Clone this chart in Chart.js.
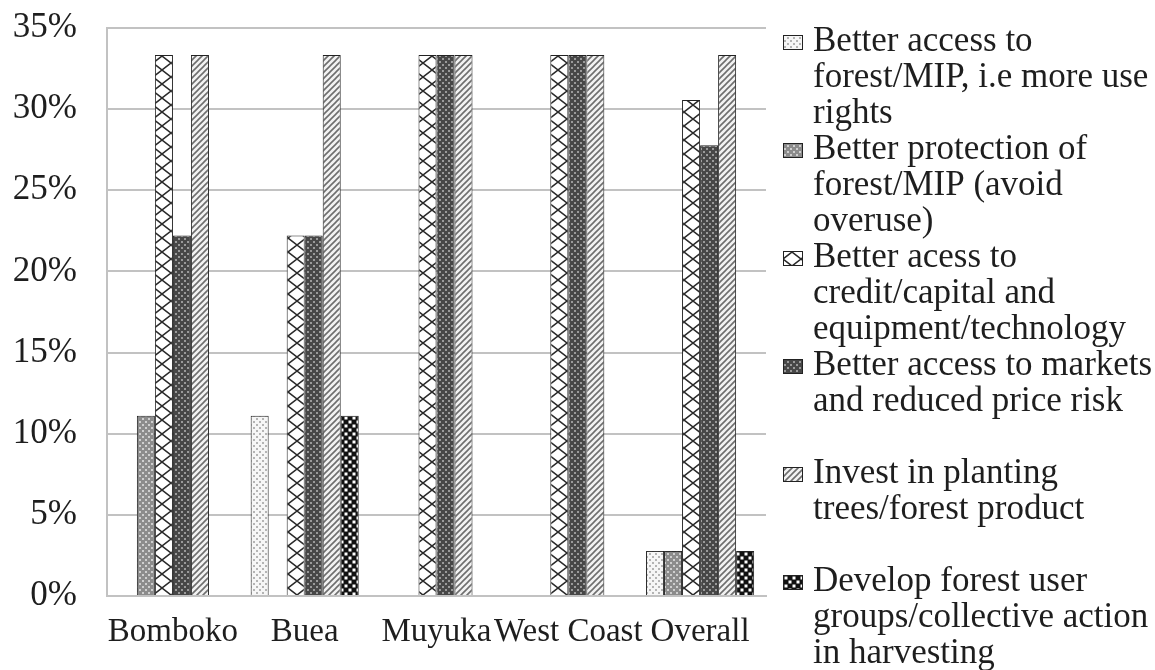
<!DOCTYPE html>
<html>
<head>
<meta charset="utf-8">
<script src="https://cdn.jsdelivr.net/npm/chart.js@4.4.1/dist/chart.umd.min.js"></script>
<style>
  html, body { margin: 0; padding: 0; background: #fff; }
  canvas { display: block; }
</style>
</head>
<body>
<canvas id="chart" width="1155" height="670"></canvas>
<script>
const categories = ['Bomboko', 'Buea', 'Muyuka', 'West Coast', 'Overall'];

// values in percent
const accessForest = [0, 11.11, 0, 0, 2.78];
const protectForest = [11.11, 0, 0, 0, 2.78];
const accessCredit = [33.33, 22.22, 33.33, 33.33, 30.56];
const accessMarkets = [22.22, 22.22, 33.33, 33.33, 27.78];
const investPlanting = [33.33, 33.33, 33.33, 33.33, 33.33];
const developGroups = [0, 11.11, 0, 0, 2.78];

const yMin = 0;
const yMax = 35;
const yStep = 5;

const legendLines = [
  ['Better access to', 'forest/MIP, i.e more use', 'rights'],
  ['Better protection of', 'forest/MIP (avoid', 'overuse)'],
  ['Better acess to', 'credit/capital and', 'equipment/technology'],
  ['Better access to markets', 'and reduced price risk'],
  ['Invest in planting', 'trees/forest product'],
  ['Develop forest user', 'groups/collective action', 'in harvesting'],
];

const serif = "'Liberation Serif', 'Times New Roman', serif";
const textColor = '#1e1e1e';
const gridColor = '#c2c2c2';

const canvas = document.getElementById('chart');
const mainCtx = canvas.getContext('2d');

function makePattern(bg, w, h, draw) {
  const c = document.createElement('canvas');
  c.width = w;
  c.height = h;
  const g = c.getContext('2d');
  g.fillStyle = bg;
  g.fillRect(0, 0, w, h);
  draw(g);
  return mainCtx.createPattern(c, 'repeat');
}

const dots = (color) => (g) => {
  g.fillStyle = color;
  g.fillRect(1, 1, 2, 2);
  g.fillRect(4, 4, 2, 2);
};

const patterns = [
  makePattern('#f6f6f6', 6, 6, dots('#b4b4b4')),
  makePattern('#8c8c8c', 6, 6, dots('#cfcfcf')),
  makePattern('#ffffff', 18, 14, (g) => {
    g.strokeStyle = '#2a2a2a';
    g.lineWidth = 1.5;
    g.beginPath();
    g.moveTo(0, 0); g.lineTo(18, 14);
    g.moveTo(18, 0); g.lineTo(0, 14);
    g.stroke();
  }),
  makePattern('#474747', 6, 6, dots('#9a9a9a')),
  makePattern('#f2f2f2', 6, 6, (g) => {
    g.strokeStyle = '#6e6e6e';
    g.lineWidth = 1.6;
    g.beginPath();
    g.moveTo(0, 6); g.lineTo(6, 0);
    g.moveTo(-3, 3); g.lineTo(3, -3);
    g.moveTo(3, 9); g.lineTo(9, 3);
    g.stroke();
  }),
  makePattern('#111111', 8, 8, (g) => {
    g.fillStyle = '#ffffff';
    g.fillRect(0.5, 0.5, 3, 3);
    g.fillRect(4.5, 4.5, 3, 3);
  }),
];

const seriesValues = [accessForest, protectForest, accessCredit, accessMarkets, investPlanting, developGroups];

const datasets = seriesValues.map((values, i) => ({
  label: legendLines[i].join(' '),
  data: values,
  backgroundColor: patterns[i],
  borderColor: '#222',
  borderWidth: (ctx) => (ctx.raw > 0 ? 1 : 0),
  borderSkipped: 'bottom',
  categoryPercentage: 0.82,
  barPercentage: 1.0,
}));

const sideLegend = {
  id: 'sideLegend',
  afterDraw(chart) {
    const ctx = chart.ctx;
    ctx.save();
    ctx.font = `35px ${serif}`;
    ctx.textBaseline = 'middle';
    ctx.textAlign = 'left';
    legendLines.forEach((lines, i) => {
      const y0 = 42 + i * 108;
      ctx.fillStyle = patterns[i];
      ctx.fillRect(783, y0 - 7, 20, 15);
      ctx.strokeStyle = '#222';
      ctx.lineWidth = 1;
      ctx.strokeRect(783.5, y0 - 6.5, 19, 14);
      ctx.fillStyle = textColor;
      lines.forEach((line, j) => ctx.fillText(line, 813, y0 + j * 36));
    });
    ctx.restore();
  },
};

new Chart(canvas, {
  type: 'bar',
  data: { labels: categories, datasets },
  options: {
    responsive: false,
    animation: false,
    layout: { padding: { left: 0, top: 28, right: 389, bottom: 0 } },
    plugins: {
      legend: { display: false },
      tooltip: { enabled: false },
    },
    scales: {
      x: {
        grid: { display: false, drawTicks: false },
        border: { color: gridColor, width: 2 },
        ticks: {
          color: textColor,
          font: { family: serif, size: 33 },
          padding: 17,
          autoSkip: false,
          maxRotation: 0,
        },
        afterFit(scale) { scale.height = 74; },
      },
      y: {
        min: yMin,
        max: yMax,
        grid: { color: gridColor, lineWidth: 2, drawTicks: false },
        border: { color: gridColor, width: 2 },
        ticks: {
          stepSize: yStep,
          color: textColor,
          font: { family: serif, size: 35 },
          padding: 30,
          callback: (v) => `${v}%`,
        },
        afterFit(scale) {
          scale.width = 107;
          scale.paddingTop = 0;
          scale.paddingBottom = 0;
        },
      },
    },
  },
  plugins: [sideLegend],
});
</script>
</body>
</html>
